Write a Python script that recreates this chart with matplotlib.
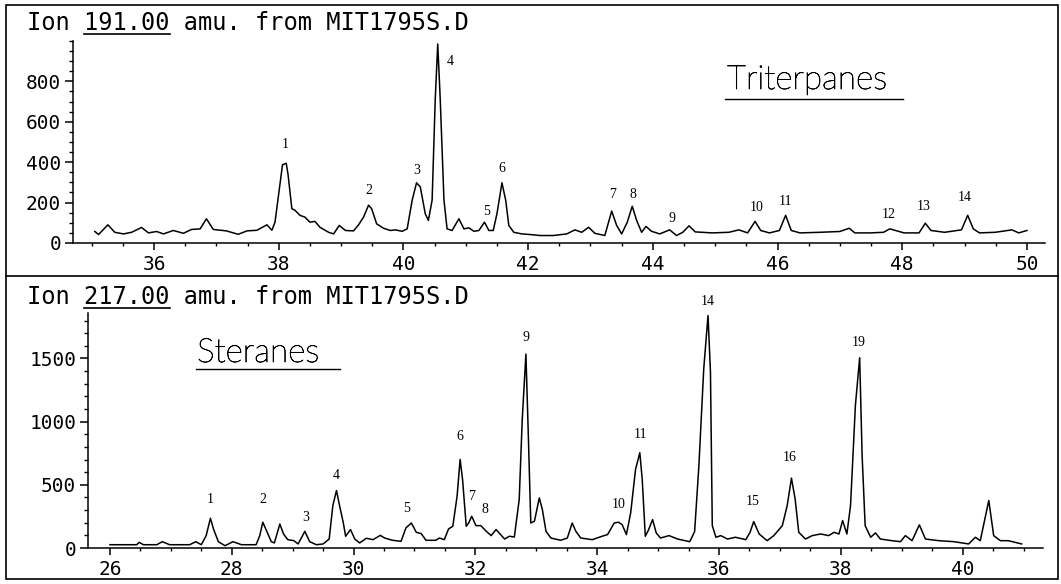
import matplotlib
matplotlib.use("Agg")
import matplotlib.pyplot as plt
import matplotlib.patheffects as pe
from matplotlib.lines import Line2D
from matplotlib.patches import Rectangle
from matplotlib.ticker import MultipleLocator

W, H = 1061, 584

# m/z 191 trace (triterpanes): retention time (min), abundance
tri_time = [35.05, 35.11, 35.26, 35.37, 35.51, 35.64, 35.80, 35.91, 36.04, 36.15,
            36.31, 36.47, 36.60, 36.74, 36.84, 36.95, 37.16, 37.35, 37.49, 37.65,
            37.81, 37.89, 37.94, 37.99, 38.06, 38.12, 38.15, 38.21, 38.26, 38.34,
            38.42, 38.50, 38.58, 38.66, 38.80, 38.88, 38.97, 39.07, 39.20, 39.28,
            39.36, 39.44, 39.49, 39.57, 39.68, 39.79, 39.87, 39.98, 40.06, 40.14,
            40.21, 40.27, 40.35, 40.40, 40.46, 40.51, 40.55, 40.59, 40.65, 40.70,
            40.78, 40.89, 40.97, 41.05, 41.13, 41.21, 41.30, 41.37, 41.44, 41.50,
            41.58, 41.64, 41.69, 41.77, 41.90, 42.03, 42.19, 42.40, 42.62, 42.75,
            42.86, 42.97, 43.07, 43.23, 43.34, 43.42, 43.50, 43.59, 43.67, 43.74,
            43.82, 43.89, 43.98, 44.11, 44.27, 44.38, 44.48, 44.58, 44.68, 44.95,
            45.22, 45.38, 45.52, 45.64, 45.73, 45.87, 46.03, 46.13, 46.22, 46.36,
            46.68, 47.00, 47.15, 47.24, 47.49, 47.70, 47.80, 47.89, 48.03, 48.27,
            48.37, 48.46, 48.68, 48.95, 49.05, 49.14, 49.24, 49.49, 49.76, 49.87,
            50.00]
tri_abund = [57, 42, 90, 53, 45, 53, 77, 50, 57, 45,
             62, 48, 67, 70, 120, 67, 60, 43, 60, 63,
             90, 63, 103, 220, 387, 395, 337, 170, 162, 137,
             128, 103, 107, 78, 53, 45, 87, 62, 60, 90,
             128, 187, 170, 95, 73, 62, 65, 58, 70, 212,
             298, 278, 145, 112, 212, 712, 985, 712, 212, 70,
             62, 120, 70, 75, 58, 62, 103, 62, 62, 145,
             298, 212, 87, 53, 45, 42, 37, 37, 45, 65,
             53, 78, 48, 37, 158, 87, 45, 103, 182, 112,
             53, 82, 58, 45, 65, 37, 53, 85, 55, 50,
             53, 65, 50, 107, 62, 50, 62, 137, 62, 50,
             53, 57, 73, 50, 50, 53, 70, 62, 50, 50,
             98, 62, 53, 65, 137, 70, 50, 53, 65, 50,
             62]
tri_peak_ids = ["1", "2", "3", "4", "5", "6", "7", "8", "9", "10", "11", "12", "13", "14"]
tri_peak_time = [38.10, 39.45, 40.22, 40.75, 41.34, 41.58, 43.36, 43.68, 44.31,
                 45.67, 46.13, 47.79, 48.35, 49.00]
tri_peak_y = [488, 259, 359, 900, 157, 367, 240, 240, 120, 175, 205, 140, 180, 225]

# m/z 217 trace (steranes)
ster_time = [26.00, 26.44, 26.48, 26.55, 26.77, 26.86, 26.98, 27.31, 27.41, 27.50,
             27.58, 27.65, 27.70, 27.78, 27.89, 28.02, 28.16, 28.40, 28.46, 28.51,
             28.57, 28.65, 28.70, 28.79, 28.85, 28.92, 29.02, 29.09, 29.20, 29.28,
             29.39, 29.50, 29.60, 29.66, 29.72, 29.77, 29.83, 29.87, 29.95, 30.02,
             30.10, 30.21, 30.32, 30.44, 30.51, 30.64, 30.78, 30.86, 30.95, 31.03,
             31.11, 31.19, 31.35, 31.41, 31.49, 31.56, 31.63, 31.70, 31.75, 31.79,
             31.85, 31.89, 31.94, 32.01, 32.09, 32.18, 32.26, 32.34, 32.48, 32.56,
             32.64, 32.72, 32.77, 32.83, 32.87, 32.91, 32.97, 33.05, 33.10, 33.16,
             33.24, 33.40, 33.51, 33.59, 33.65, 33.73, 33.92, 34.08, 34.17, 34.28,
             34.35, 34.41, 34.48, 34.55, 34.63, 34.70, 34.74, 34.79, 34.84, 34.91,
             34.97, 35.04, 35.18, 35.32, 35.52, 35.60, 35.67, 35.75, 35.82, 35.86,
             35.89, 35.95, 36.03, 36.14, 36.27, 36.44, 36.51, 36.57, 36.66, 36.79,
             36.90, 37.04, 37.12, 37.19, 37.25, 37.31, 37.42, 37.53, 37.67, 37.80,
             37.89, 37.97, 38.03, 38.10, 38.16, 38.24, 38.31, 38.35, 38.40, 38.49,
             38.57, 38.65, 38.84, 38.98, 39.06, 39.17, 39.29, 39.39, 39.61, 39.86,
             40.10, 40.21, 40.29, 40.43, 40.51, 40.62, 40.75, 40.97]
ster_abund = [26, 26, 45, 26, 26, 50, 26, 26, 50, 26,
              98, 235, 151, 50, 18, 50, 26, 26, 98, 204,
              138, 50, 40, 190, 111, 66, 58, 32, 132, 50,
              26, 32, 71, 336, 455, 336, 204, 93, 146, 71,
              40, 77, 66, 100, 79, 61, 53, 159, 198, 124,
              114, 61, 61, 79, 66, 151, 172, 410, 701, 542,
              172, 198, 251, 177, 177, 132, 98, 146, 71, 93,
              87, 384, 1019, 1535, 886, 198, 212, 397, 304, 132,
              79, 61, 79, 198, 132, 79, 66, 93, 106, 198,
              204, 185, 106, 278, 622, 754, 542, 93, 140, 225,
              119, 79, 98, 71, 50, 130, 650, 1420, 1840, 1394,
              177, 85, 98, 71, 85, 66, 124, 209, 111, 58,
              98, 177, 336, 553, 389, 124, 71, 98, 111, 98,
              124, 111, 217, 111, 336, 1130, 1506, 733, 177, 85,
              119, 71, 58, 50, 98, 58, 183, 71, 58, 50,
              32, 85, 58, 376, 98, 58, 58, 32]
ster_peak_ids = ["1", "2", "3", "4", "5", "6", "7", "8", "9", "10", "11", "14", "15", "16", "19"]
ster_peak_time = [27.65, 28.51, 29.22, 29.71, 30.87, 31.75, 31.94, 32.15, 32.83,
                  34.35, 34.71, 35.82, 36.56, 37.16, 38.30]
ster_peak_y = [384, 384, 244, 575, 315, 879, 407, 302, 1665, 342, 897, 1950, 368, 715, 1628]

plt.rcParams['font.family'] = ['DejaVu Sans Mono']

fig = plt.figure(figsize=(W / 100, H / 100), dpi=100)


def fx(px):
    return px / W


def fy(py):
    return 1 - py / H


def setup_axes(ax, ymajor, yminor):
    for s in ['top', 'right']:
        ax.spines[s].set_visible(False)
    for s in ['left', 'bottom']:
        ax.spines[s].set_linewidth(1.1)
    ax.xaxis.set_major_locator(MultipleLocator(2))
    ax.xaxis.set_minor_locator(MultipleLocator(0.5))
    ax.yaxis.set_major_locator(MultipleLocator(ymajor))
    ax.yaxis.set_minor_locator(MultipleLocator(yminor))
    ax.tick_params(axis='x', which='major', direction='out', length=5, width=1.1,
                   pad=3.5, labelsize=14)
    ax.tick_params(axis='x', which='minor', direction='out', length=2.5, width=1.0)
    ax.tick_params(axis='y', which='major', direction='out', length=5.5, width=1.1,
                   pad=3, labelsize=14)
    ax.tick_params(axis='y', which='minor', direction='out', length=3, width=1.0)


# top panel: triterpanes
ax1 = fig.add_axes([fx(73), fy(243), fx(1045) - fx(73), fy(41) - fy(243)])
ax1.plot(tri_time, tri_abund, color='black', lw=1.1)
ax1.set_xlim(34.70, 50.29)
ax1.set_ylim(0, 1000)
setup_axes(ax1, 200, 50)
ax1.set_yticks([0, 200, 400, 600, 800])
for lab, t, y in zip(tri_peak_ids, tri_peak_time, tri_peak_y):
    ax1.text(t, y, lab, ha='center', va='center', fontsize=10,
             family='Liberation Serif', clip_on=False)

# bottom panel: steranes
ax2 = fig.add_axes([fx(88), fy(548), fx(1043) - fx(88), fy(313) - fy(548)])
ax2.plot(ster_time, ster_abund, color='black', lw=1.1)
ax2.set_xlim(25.64, 41.32)
ax2.set_ylim(0, 1860)
setup_axes(ax2, 500, 100)
ax2.set_yticks([0, 500, 1000, 1500])
for lab, t, y in zip(ster_peak_ids, ster_peak_time, ster_peak_y):
    ax2.text(t, y, lab, ha='center', va='center', fontsize=10,
             family='Liberation Serif', clip_on=False)

# compound class names, underlined (thin lettering)
thin = [pe.withStroke(linewidth=0.5, foreground='black')]
fig.text(fx(727), fy(89), "Triterpanes", fontsize=24, family='Lato', fontweight='light',
         va='baseline', ha='left', color='black', path_effects=thin)
fig.add_artist(Line2D([fx(725), fx(903)], [fy(99), fy(99)], color='black', lw=1.0))
fig.text(fx(197), fy(362), "Steranes", fontsize=24, family='Lato', fontweight='light',
         va='baseline', ha='left', color='black', path_effects=thin)
fig.add_artist(Line2D([fx(196), fx(340)], [fy(369), fy(369)], color='black', lw=1.0))

# panel headers with the ion mass underlined
renderer = fig.canvas.get_renderer()
for y_px, ion in [(23, "191.00"), (297, "217.00")]:
    s = "Ion " + ion + " amu. from MIT1795S.D"
    t = fig.text(fx(27), fy(y_px), s, fontsize=17, va='center', ha='left')
    bb = t.get_window_extent(renderer)
    cw = bb.width / len(s)
    x0 = bb.x0 + 4 * cw
    x1 = bb.x0 + (4 + len(ion)) * cw
    fig.add_artist(Line2D([x0 / W, x1 / W], [fy(y_px + 11)] * 2, color='black', lw=1.2))

# outer frame and divider
fig.add_artist(Rectangle((fx(6), fy(579)), (1058 - 6) / W, (579 - 5) / H,
                         transform=fig.transFigure, fill=False, lw=1.2, ec='black'))
fig.add_artist(Line2D([fx(6), fx(1058)], [fy(276), fy(276)], color='black', lw=1.2))

fig.savefig('out.png', dpi=100)
